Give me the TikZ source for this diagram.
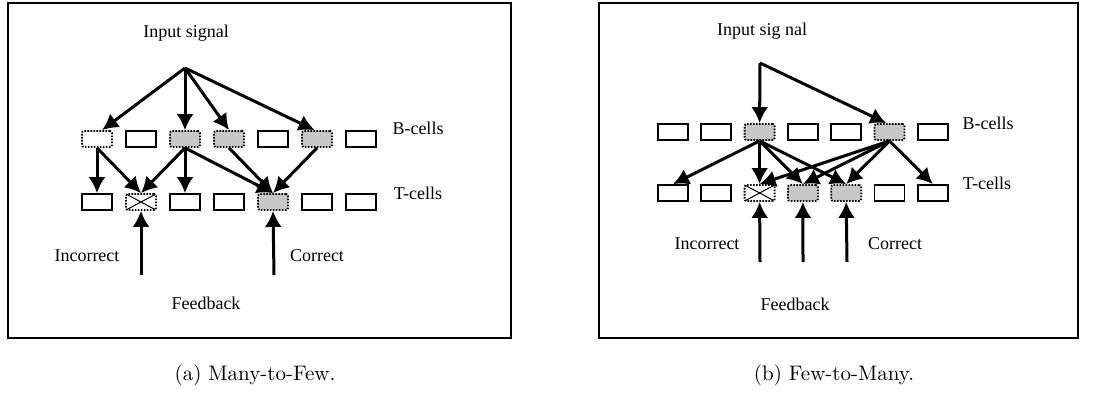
\documentclass[tikz,border=0pt]{standalone}
\usepackage{fontspec}
\newfontfamily\timesfont{Liberation Serif}
\newfontfamily\capfont{lmroman10-regular}[Extension=.otf]
\usetikzlibrary{arrows.meta,positioning}
\tikzset{%
  >={Latex[width=17pt,length=16pt]},
  % Specifications for style of nodes:
            cell/.style = {rectangle, draw=black, line width=1.8pt,
                           minimum width=30pt, minimum height=16pt, inner sep=0pt},
            miss/.style = {cell, dash pattern=on 1.6pt off 1.4pt, rounded corners=2pt},
             hit/.style = {miss, fill=black!22},
           cross/.style = {miss, path picture={\draw[solid, sharp corners, line width=1pt]
                           (path picture bounding box.north west) -- (path picture bounding box.south east)
                           (path picture bounding box.south west) -- (path picture bounding box.north east);}},
             txt/.style = {font=\timesfont\fontsize{18}{21}\selectfont, inner sep=0pt},
          subcap/.style = {font=\capfont\fontsize{21}{25}\selectfont, inner sep=0pt},
           frame/.style = {draw=black, line width=1.3pt}
                           }

\begin{document}
\begin{tikzpicture}[x=1pt, y=-1pt, node distance=44pt, line width=3pt]
                    \useasboundingbox (0,0) rectangle (1110,392);

                    % (a) Many-to-Few
                    \draw[frame] (8,3) rectangle (511,338);
                    \node (aInput) [txt] at (186,33) {Input signal};
                    \coordinate (aFan) at (185,68);

                    \node (aB1) [miss]              at (97,139) {};
                    \node (aB2) [cell, right of=aB1] {};
                    \node (aB3) [hit,  right of=aB2] {};
                    \node (aB4) [hit,  right of=aB3] {};
                    \node (aB5) [cell, right of=aB4] {};
                    \node (aB6) [hit,  right of=aB5] {};
                    \node (aB7) [cell, right of=aB6] {};

                    \node (aT1) [cell]              at (97,202) {};
                    \node (aT2) [cross, right of=aT1] {};
                    \node (aT3) [cell, right of=aT2] {};
                    \node (aT4) [cell, right of=aT3] {};
                    \node (aT5) [hit,  right of=aT4] {};
                    \node (aT6) [cell, right of=aT5] {};
                    \node (aT7) [cell, right of=aT6] {};

                    \node (aBname) [txt] at (418,128) {B-cells};
                    \node (aTname) [txt] at (418,193) {T-cells};
                    \node (aWrong) [txt] at (87,256)  {Incorrect};
                    \node (aRight) [txt] at (317,256) {Correct};
                    \node (aFeed)  [txt] at (206,303) {Feedback};
                    \coordinate (aFb1) at (141,275);
                    \coordinate (aFb2) at (274,275);

                    \draw[->]  (aFan) -- (aB1.60);
                    \draw[->]  (aFan) -- (aB3.north);
                    \draw[->]  (aFan) -- (aB4.north);
                    \draw[->]  (aFan) -- (aB6.105);

                    \draw[->]  (aB1.south) -- (aT1.north);
                    \draw[->]  (aB1.south) -- (aT2.north);
                    \draw[->]  (aB3.south) -- (aT2.north);
                    \draw[->]  (aB3.south) -- (aT3.north);
                    \draw[->]  (aB3.south) -- (aT5.north);
                    \draw[->]  (aB4.south) -- (aT5.north);
                    \draw[->]  (aB6.south) -- (aT5.north);

                    \draw[->]  (aFb1) -- (aT2.south);
                    \draw[->]  (aFb2) -- (aT5.south);

                    \node (aCap) [subcap] at (255,375) {(a) Many-to-Few.};

                    % (b) Few-to-Many
                    \begin{scope}[node distance=43.3pt]
                    \draw[frame] (599,3) rectangle (1078,338);
                    \node (bInput) [txt] at (762,31) {Input sig nal};
                    \coordinate (bFan) at (760,63);

                    \node (bB1) [cell]              at (673,132) {};
                    \node (bB2) [cell, right of=bB1] {};
                    \node (bB3) [hit,  right of=bB2] {};
                    \node (bB4) [cell, right of=bB3] {};
                    \node (bB5) [cell, right of=bB4] {};
                    \node (bB6) [hit,  right of=bB5] {};
                    \node (bB7) [cell, right of=bB6] {};

                    \node (bT1) [cell]              at (673,193) {};
                    \node (bT2) [cell, right of=bT1] {};
                    \node (bT3) [cross, right of=bT2] {};
                    \node (bT4) [hit,  right of=bT3] {};
                    \node (bT5) [hit,  right of=bT4] {};
                    \node (bT6) [cell, right of=bT5] {};
                    \node (bT7) [cell, right of=bT6] {};

                    \node (bBname) [txt] at (988,123) {B-cells};
                    \node (bTname) [txt] at (987,183) {T-cells};
                    \node (bWrong) [txt] at (707,244) {Incorrect};
                    \node (bRight) [txt] at (895,244) {Correct};
                    \node (bFeed)  [txt] at (795,304) {Feedback};
                    \coordinate (bFb1) at (760,262);
                    \coordinate (bFb2) at (803,262);
                    \coordinate (bFb3) at (847,262);

                    \draw[->]  (bFan) -- (bB3.north);
                    \draw[->]  (bFan) -- (bB6.110);

                    \draw[->]  (bB3.south) -- (bT1.north);
                    \draw[->]  (bB3.south) -- (bT3.north);
                    \draw[->]  (bB3.south) -- (bT4.north);
                    \draw[->]  (bB3.south) -- (bT5.north);
                    \draw[->]  (bB6.south) -- (bT3.north);
                    \draw[->]  (bB6.south) -- (bT4.north);
                    \draw[->]  (bB6.south) -- (bT5.north);
                    \draw[->]  (bB6.south) -- (bT7.north);

                    \draw[->]  (bFb1) -- (bT3.south);
                    \draw[->]  (bFb2) -- (bT4.south);
                    \draw[->]  (bFb3) -- (bT5.south);

                    \node (bCap) [subcap] at (834,375) {(b) Few-to-Many.};
                    \end{scope}
                \end{tikzpicture}
\end{document}
